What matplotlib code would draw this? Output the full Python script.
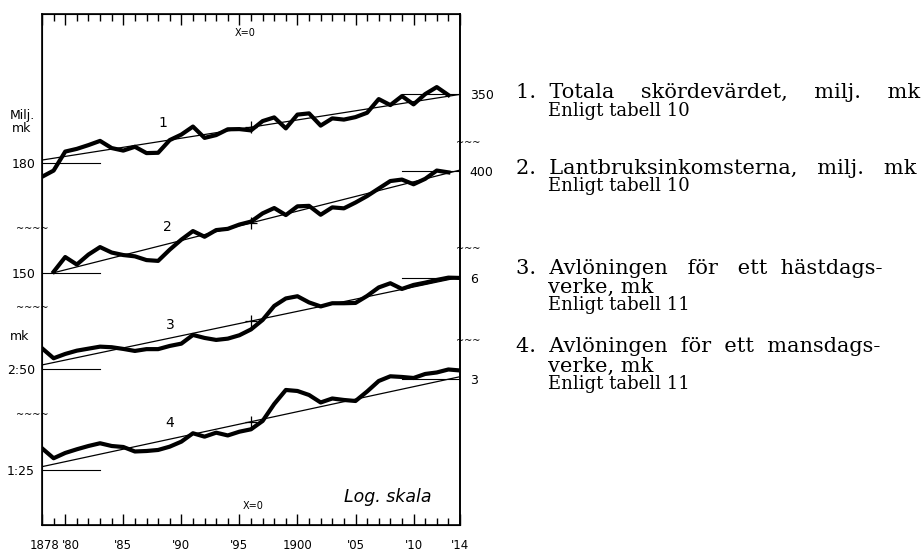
import numpy as np
import matplotlib
matplotlib.use("Agg")
import matplotlib.pyplot as plt
from matplotlib.ticker import NullLocator, FixedLocator
from matplotlib.transforms import ScaledTranslation

# --- data ---
years_1 = list(range(1878, 1914))
totala_skordevardet = [157.8, 167.5, 201.0, 206.3, 213.9, 222.7, 207.9, 202.9, 210.5, 198.1,
                       198.7, 224.4, 236.6, 255.5, 229.2, 235.5, 248.9, 249.4, 246.3, 269.3,
                       279.0, 251.1, 286.6, 290.0, 257.9, 276.4, 273.2, 279.8, 291.7, 332.6,
                       314.0, 342.3, 316.1, 348.9, 373.2, 345.6]

years_2 = list(range(1879, 1914))
lantbruksinkomster = [151.4, 174.4, 162.3, 178.6, 191.9, 182.1, 177.8, 175.6, 169.4, 168.1,
                      187.2, 206.1, 223.8, 211.9, 225.9, 228.6, 238.2, 245.1, 265.2, 279.1,
                      260.9, 283.7, 285.0, 261.7, 280.9, 278.3, 294.2, 313.1, 336.5, 361.6,
                      366.8, 350.6, 369.3, 399.9, 393.0]

years_34 = list(range(1878, 1915))
hastdagsverke = [3.058, 2.778, 2.895, 2.988, 3.046, 3.105, 3.088, 3.038, 2.980, 3.032,
                 3.032, 3.126, 3.196, 3.474, 3.376, 3.312, 3.353, 3.464, 3.663, 4.012,
                 4.589, 4.931, 5.036, 4.746, 4.567, 4.709, 4.709, 4.723, 5.051, 5.480,
                 5.705, 5.402, 5.613, 5.738, 5.889, 6.020, 6.003]
mansdagsverke = [1.544, 1.403, 1.476, 1.529, 1.578, 1.620, 1.578, 1.563, 1.497, 1.504,
                 1.519, 1.568, 1.645, 1.783, 1.726, 1.793, 1.746, 1.810, 1.852, 2.006,
                 2.361, 2.701, 2.675, 2.574, 2.396, 2.489, 2.454, 2.430, 2.662, 2.944,
                 3.080, 3.060, 3.030, 3.149, 3.195, 3.288, 3.257]

# trend lines (start year, end year, start value, end value)
trend_years = [(1878, 1914), (1879, 1914), (1878, 1914), (1878, 1914)]
trend_values = [(185.3, 347.9), (150.0, 401.8), (2.605, 6.043), (1.294, 3.068)]

# reference levels: left label, right label
left_levels = [180, 150, 2.5, 1.25]
left_labels = ["180", "150", "2:50", "1:25"]
right_levels = [350, 400, 6, 3]
right_labels = ["350", "400", "6", "3"]

# each curve is shifted on the log scale so the four sit one above the other
shift_decades = [1.508, 1.051, 0.649, 0.228]

year_ticks = [1878, 1880, 1885, 1890, 1895, 1900, 1905, 1910, 1914]
year_labels = ["1878", "'80", "'85", "'90", "'95", "1900", "'05", "'10", "'14"]

# extra blanks imitate the justified type of the original
legend_lines = [
    ("1.  Totala    skördevärdet,    milj.    mk", None, "Enligt tabell 10"),
    ("2.  Lantbruksinkomsterna,   milj.   mk", None, "Enligt tabell 10"),
    ("3.  Avlöningen   för   ett  hästdags-", "verke, mk", "Enligt tabell 11"),
    ("4.  Avlöningen  för  ett  mansdags-", "verke, mk", "Enligt tabell 11"),
]

series = [(years_1, totala_skordevardet), (years_2, lantbruksinkomster),
          (years_34, hastdagsverke), (years_34, mansdagsverke)]


def factor(i):
    return 10 ** shift_decades[i] / left_levels[i]


fig = plt.figure(figsize=(9.22, 5.53), dpi=100)
ax = fig.add_axes([42 / 922, 28 / 553, 418 / 922, 511 / 553])
ax.set_yscale("log")
ax.set_xlim(1878, 1914)
ax.set_ylim(1, 10 ** (511 / 240))

for i, (yrs, vals) in enumerate(series):
    f = factor(i)
    ax.plot(yrs, np.array(vals) * f, color="black", lw=3.0, solid_joinstyle="round")
    # trend line with the x=0 cross at 1896
    (y0, y1), (v0, v1) = trend_years[i], trend_values[i]
    ax.plot([y0, y1], [v0 * f, v1 * f], color="black", lw=0.9)
    v_mid = v0 * (v1 / v0) ** ((1896 - y0) / (y1 - y0))
    ax.plot([1896], [v_mid * f], marker="+", color="black", ms=9, mew=0.9)
    # short reference lines at the two ends
    ax.plot([1878, 1883], [left_levels[i] * f] * 2, color="black", lw=0.8)
    ax.plot([1909, 1914], [right_levels[i] * f] * 2, color="black", lw=0.8)

for s in ax.spines.values():
    s.set_linewidth(1.2)

# x axis: ticks inward on top and bottom
ax.set_xticks(year_ticks)
ax.set_xticklabels(year_labels, fontsize=8.5)
ax.xaxis.set_minor_locator(FixedLocator(list(range(1878, 1915))))
ax.tick_params(axis="x", which="major", direction="in", top=True, length=8, width=1, pad=10)
ax.tick_params(axis="x", which="minor", direction="in", top=True, length=5, width=1)
# nudge the crowded first two year labels apart
xlabels = ax.get_xticklabels()
for lab, dx in [(xlabels[0], 2.0), (xlabels[1], 4.0)]:
    lab.set_transform(lab.get_transform() + ScaledTranslation(dx / 72, 0, fig.dpi_scale_trans))

# y axis labels left and right
ax.yaxis.set_minor_locator(NullLocator())
ax.set_yticks([left_levels[i] * factor(i) for i in range(4)])
ax.set_yticklabels(left_labels, fontsize=9)
ax.tick_params(axis="y", length=0, pad=5)

ax2 = ax.twinx()
ax2.set_yscale("log")
ax2.set_ylim(ax.get_ylim())
ax2.yaxis.set_minor_locator(NullLocator())
ax2.set_yticks([right_levels[i] * factor(i) for i in range(4)])
ax2.set_yticklabels(right_labels, fontsize=9)
ax2.tick_params(axis="y", length=0, pad=7)
ax2.spines["right"].set_linewidth(1.2)

# units and curve numbers
ax.text(-0.048, 0.788, "Milj.\nmk", transform=ax.transAxes, ha="center", va="center",
        fontsize=9, linespacing=1.0)
ax.text(-0.053, 0.368, "mk", transform=ax.transAxes, ha="center", va="center", fontsize=9)
for num, (px, py) in zip("1234", [(0.289, 0.787), (0.301, 0.583), (0.306, 0.391), (0.306, 0.200)]):
    ax.text(px, py, num, transform=ax.transAxes, ha="center", va="center", fontsize=10)

ax.text(0.486, 0.963, "X=0", transform=ax.transAxes, ha="center", va="center", fontsize=7)
ax.text(0.505, 0.037, "X=0", transform=ax.transAxes, ha="center", va="center", fontsize=7)
ax.text(0.828, 0.055, "Log. skala", transform=ax.transAxes, ha="center", va="center",
        fontsize=12.5, style="italic")

# axis break marks
for yb in [0.579, 0.425, 0.215]:
    ax.text(-0.024, yb, "~~~~", transform=ax.transAxes, ha="center", va="center",
            fontsize=7, clip_on=False)
for yb in [0.748, 0.540, 0.360]:
    ax.text(1.02, yb, "~~~", transform=ax.transAxes, ha="center", va="center",
            fontsize=7, clip_on=False)

# legend text on the right
legend_y = [93, 168, 268, 347]
for (head, cont, src), y in zip(legend_lines, legend_y):
    fig.text(516 / 922, 1 - y / 553, head, fontsize=15, family="DejaVu Serif", va="center")
    yy = y
    if cont:
        yy += 19
        fig.text(548 / 922, 1 - yy / 553, cont, fontsize=15, family="DejaVu Serif", va="center")
    yy += 18
    fig.text(548 / 922, 1 - yy / 553, src, fontsize=13, family="DejaVu Serif", va="center")

fig.savefig("out.png", dpi=100)
